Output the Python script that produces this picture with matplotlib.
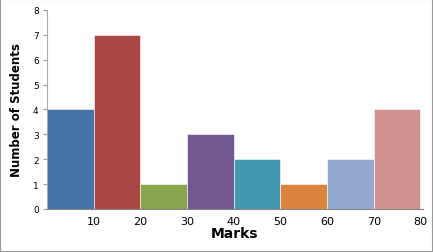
import matplotlib.pyplot as plt
import matplotlib.patches as mpatches

# Data
marks = [10, 20, 30, 40, 50, 60, 70, 80]
students = [4, 7, 1, 3, 2, 1, 2, 4]
colors = ['#4572A7', '#AA4643', '#89A54E', '#71588F',
          '#4198AF', '#DB843D', '#93A9CF', '#D19392']

fig = plt.figure(figsize=(4.33, 2.53), dpi=100)
ax = fig.add_axes([0.1085, 0.170, 0.868, 0.787])

# histogram-like bars, each spanning the 10-mark interval ending at the label
lefts = [m - 10 for m in marks]
ax.bar(lefts, students, width=10, align='edge', color=colors,
       edgecolor='white', linewidth=0.4)

ax.set_xlim(0, 80.5)
ax.set_ylim(0, 8)
ax.set_yticks(range(0, 9))
ax.set_xticks(marks)
ax.tick_params(axis='y', labelsize=6.5, length=3, color='#999999', pad=3)
ax.tick_params(axis='x', labelsize=8, length=0, pad=5)

for s in ['top', 'right']:
    ax.spines[s].set_visible(False)
ax.spines['left'].set_color('#AAAAAA')
ax.spines['bottom'].set_color('#888888')

ax.set_ylabel('Number of Students', fontsize=8.5, fontweight='bold', labelpad=7)
ax.set_xlabel('Marks', fontsize=10, fontweight='bold', labelpad=0)

# outer frame
fig.patches.append(mpatches.Rectangle((0, 0), 1, 1, transform=fig.transFigure,
                                      fill=False, edgecolor='#999999', linewidth=1.5))

fig.savefig('out.png', dpi=100)
